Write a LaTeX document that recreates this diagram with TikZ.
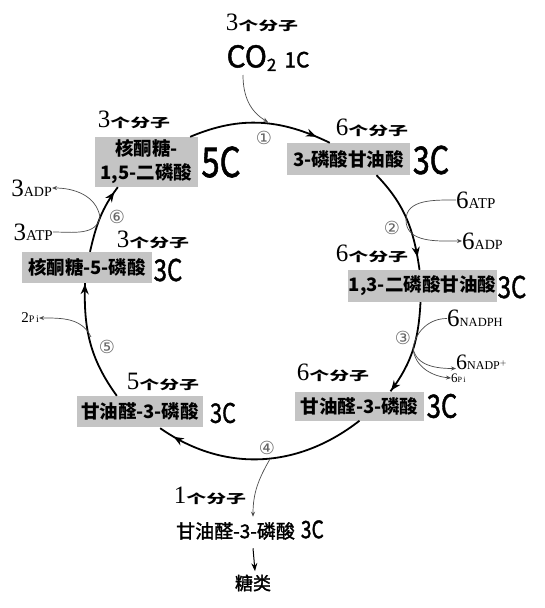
\documentclass[tikz,border=0pt]{standalone}
\usepackage{fontspec}
\setmainfont{Liberation Serif}
\newfontfamily\cjk{Noto Sans CJK SC}
\newfontfamily\cjkm[FakeBold=1.6]{Noto Sans CJK SC}
\newfontfamily\dejavu{DejaVu Sans}
\usetikzlibrary{arrows.meta,decorations.markings}
\definecolor{boxgray}{RGB}{196,196,196}
\newcommand{\fsz}[1]{\fontsize{#1}{#1}\selectfont}
\newcommand{\cclab}[2]{\scalebox{0.8}[1]{\cjkm\fsz{#1}#2}}
\newcommand{\molc}[1]{{\fsz{25}#1}\scalebox{1.05}[0.65]{\cjk\bfseries\fsz{19}个分子}}
\begin{document}
\begin{tikzpicture}[x=1pt,y=1pt,
  box/.style={fill=boxgray, inner sep=0pt, font={\cjk\bfseries\fsz{18.5}}, align=center},
  cyc/.style={line width=1.8pt, black},
  tipat/.style={postaction={decorate}, decoration={markings, mark=at position #1 with {\arrow{Stealth[length=10pt,width=8pt]}}}},
  side/.style={line width=0.7pt, black!70},
  sidearrow/.style={side, -{Stealth[length=5pt,width=4pt]}},
  num/.style={font={\dejavu\fsz{18}}, text=black!60, inner sep=0pt},
  lab/.style={inner sep=0pt},
]
\useasboundingbox (0,0) rectangle (545,-608);

% boxes
\node[box, minimum width=103pt, minimum height=50pt, font={\cjk\bfseries\fontsize{18.5}{24}\selectfont}] (B15) at (146.5,-162) {核酮糖-\\1,5-二磷酸};
\node[box, minimum width=123pt, minimum height=32pt] (B3PGA) at (348.5,-159) {3-磷酸甘油酸};
\node[box, minimum width=149pt, minimum height=32pt] (B13) at (422.5,-286) {1,3-二磷酸甘油酸};
\node[box, minimum width=129pt, minimum height=29pt] (BG3R) at (359.5,-406) {甘油醛-3-磷酸};
\node[box, minimum width=126pt, minimum height=31pt] (BG3L) at (140,-411.5) {甘油醛-3-磷酸};
\node[box, minimum width=130pt, minimum height=31pt] (BR5P) at (87,-267.5) {核酮糖-5-磷酸};

% carbon labels
\node[lab] (c15) at (221,-162) {\cclab{41}{5C}};
\node[lab] (c3pga) at (431,-160) {\cclab{38}{3C}};
\node[lab] (c13) at (512,-287) {\cclab{30}{3C}};
\node[lab] (cg3r) at (442,-406) {\cclab{32}{3C}};
\node[lab] (cg3l) at (223,-413) {\cclab{27}{3C}};
\node[lab] (cr5p) at (168,-270) {\cclab{30}{3C}};

% molecule counts
\node[lab] (k0) at (262,-23) {\molc{3}};
\node[lab] (k1) at (134,-120) {\molc{3}};
\node[lab] (k2) at (372,-128) {\molc{6}};
\node[lab] (k3) at (372,-254) {\molc{6}};
\node[lab] (k4) at (333,-373) {\molc{6}};
\node[lab] (k5) at (163,-382) {\molc{5}};
\node[lab] (k6) at (153,-240) {\molc{3}};
\node[lab] (k7) at (210,-496) {\molc{1}};

% CO2
\node[lab] (CO2) at (268,-58) {\cjkm\fsz{30}CO\raisebox{-0.12em}{\fsz{17}2}\hspace{8pt}{\fsz{21}1C}};

% bottom
\node (G3P) at (250,-530) {{\cjkm\fsz{19}甘油醛-3-磷酸}\hspace{6pt}\cclab{24}{3C}};
\node (sugar) at (253,-583) {\cjkm\fsz{18}糖类};

% side labels
\node[lab, anchor=west] (ATP2) at (456,-200) {{\fsz{25}6}{\fsz{15}ATP}};
\node[lab, anchor=west] (ADP2) at (462,-241) {{\fsz{25}6}{\fsz{14}ADP}};
\node[lab, anchor=west] (NADPH) at (447,-318.5) {{\fsz{25}6}{\fsz{12.5}NADPH}};
\node[lab, anchor=west] (NADP) at (456,-362.5) {{\fsz{22}6}{\fsz{12}NADP$^{+}$}};
\node[lab, anchor=west] (Pi6) at (451,-378) {{\fsz{13}6}{\fsz{8}P\,i}};
\node[lab, anchor=east] (Pi2) at (39,-318) {{\fsz{15}2}{\fsz{10}P\,i}};
\node[lab, anchor=east] (ADP3) at (52,-188) {{\fsz{25}3}{\fsz{14}ADP}};
\node[lab, anchor=east] (ATP3) at (53,-232) {{\fsz{25}3}{\fsz{15}ATP}};

% step numbers
\node[num] (n1) at (264,-138) {①};
\node[num] (n2) at (392,-228) {②};
\node[num] (n3) at (403,-338) {③};
\node[num] (n4) at (267,-448) {④};
\node[num] (n5) at (107,-347) {⑤};
\node[num] (n6) at (117,-217) {⑥};

% cycle
\draw[cyc, tipat=-15pt] ([xshift=-8pt]B15.north east) to[out=23,in=154] ([xshift=43pt]B3PGA.north west);
\draw[cyc, tipat=-13pt] ([xshift=28pt]B3PGA.south) to[out=-46,in=98] ([xshift=-3pt]B13.north);
\draw[cyc, tipat=-1pt] ([xshift=-2pt]B13.south) to[out=-93,in=53] ([xshift=31pt]BG3R.north);
\draw[cyc, tipat=-16pt] (BG3R.south) to[out=-142,in=-35] ([xshift=-43pt,yshift=-1pt]BG3L.south east);
\draw[cyc, tipat=-1pt] ([xshift=40pt]BG3L.north west) to[out=126,in=-92] ([xshift=-2pt]BR5P.south);
\draw[cyc, tipat=-6pt] ([xshift=3pt]BR5P.north) to[out=77,in=-127] ([xshift=23pt]B15.south west);

% points on the cycle
\coordinate (c0) at (243,-75);
\coordinate (c1) at (268,-122);
\coordinate (r2) at (406,-220);
\coordinate (r3) at (413,-348);
\coordinate (r4) at (270,-459);
\coordinate (r5) at (91,-337);
\coordinate (r6) at (100,-217);

% side reactions
\draw[sidearrow] (c0) to[out=-90,in=150] (c1);
\draw[side] (ATP2.west) to[out=180,in=90] (r2);
\draw[sidearrow] (r2) to[out=-90,in=180] (ADP2.west);
\draw[side] (NADPH.west) to[out=180,in=80] (r3);
\draw[sidearrow] (r3) to[out=-80,in=180] ([yshift=-6pt]NADP.west);
\draw[sidearrow] (r3) to[out=-85,in=175] (Pi6.west);
\draw[sidearrow] (r4) to[out=-120,in=90] ([xshift=3pt]G3P.north);
\draw[sidearrow] (r5) to[out=115,in=0] (Pi2.east);
\draw[sidearrow] (r6) to[out=100,in=0] (ADP3.east);
\draw[side] (ATP3.east) to[out=0,in=-100] (r6);
\draw[line width=1pt, -{Stealth[length=8pt,width=6pt]}] ([xshift=3pt,yshift=-5pt]G3P.south) -- ([xshift=2pt]sugar.north);
\end{tikzpicture}
\end{document}
